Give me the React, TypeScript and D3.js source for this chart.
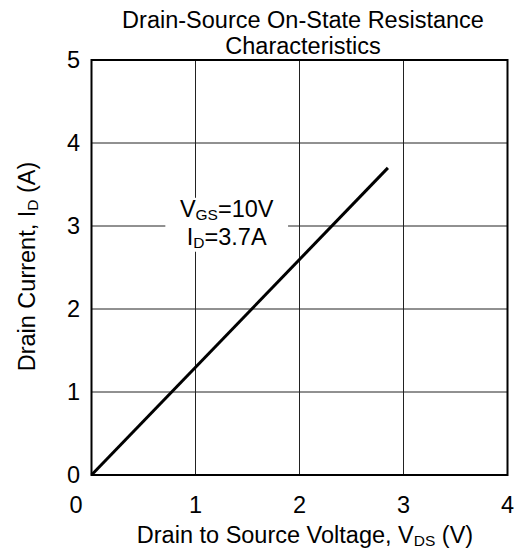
import React, {useEffect, useRef} from 'react';
import * as d3 from 'd3';

// on-state curve (linear region)
const vds = [0, 2.85];
const id = [0, 3.7];
const xTicks = [0, 1, 2, 3, 4];
const yTicks = [0, 1, 2, 3, 4, 5];
const titleLines = ['Drain-Source On-State Resistance', 'Characteristics'];

const W = 514;
const H = 555;
const m = {top: 60, right: 6, bottom: 80, left: 91.5};

const App: React.FC = () => {
    const ref = useRef<SVGSVGElement>(null);
    useEffect(() => {
        const svg = d3.select(ref.current);
        svg.selectAll('*').remove();
        const font = 'Arial, "Liberation Sans", sans-serif';
        const fs = 23.5;
        const sub = 15.5;
        const x = d3.scaleLinear().domain([0, 4]).range([m.left, W - m.right - 0.5]);
        const y = d3.scaleLinear().domain([0, 5]).range([H - m.bottom, m.top]);

        // grid
        const g = svg.append('g');
        g.selectAll('.vg').data(xTicks.slice(1, -1)).enter().append('line')
            .attr('x1', (d) => x(d)).attr('x2', (d) => x(d))
            .attr('y1', y(0)).attr('y2', y(5))
            .attr('stroke', '#222').attr('stroke-width', 1);
        g.selectAll('.hg').data(yTicks.slice(1, -1)).enter().append('line')
            .attr('x1', x(0)).attr('x2', x(4))
            .attr('y1', (d) => y(d)).attr('y2', (d) => y(d))
            .attr('stroke', '#222').attr('stroke-width', 1);

        // annotation box hides grid
        const ax = x(1.3);
        const ay = y(3.0);
        svg.append('rect')
            .attr('x', x(0.71)).attr('y', y(3.34))
            .attr('width', x(1.89) - x(0.71)).attr('height', y(2.69) - y(3.34))
            .attr('fill', '#fff');
        const t1 = svg.append('text').attr('x', ax).attr('y', ay - 9)
            .attr('text-anchor', 'middle').attr('font-family', font).attr('font-size', fs);
        t1.append('tspan').text('V');
        t1.append('tspan').attr('font-size', sub).attr('dy', 3).text('GS');
        t1.append('tspan').attr('dy', -3).text('=10V');
        const t2 = svg.append('text').attr('x', ax).attr('y', ay + 19)
            .attr('text-anchor', 'middle').attr('font-family', font).attr('font-size', fs);
        t2.append('tspan').text('I');
        t2.append('tspan').attr('font-size', sub).attr('dy', 3).text('D');
        t2.append('tspan').attr('dy', -3).text('=3.7A');

        // curve
        const line = d3.line<number>().x((d, i) => x(vds[i])).y((d) => y(d));
        svg.append('path').datum(id).attr('d', line)
            .attr('fill', 'none').attr('stroke', '#000').attr('stroke-width', 3);

        // frame
        svg.append('rect').attr('x', x(0)).attr('y', y(5))
            .attr('width', x(4) - x(0)).attr('height', y(0) - y(5))
            .attr('fill', 'none').attr('stroke', '#000').attr('stroke-width', 2);

        // tick labels
        svg.selectAll('.xt').data(xTicks).enter().append('text')
            .attr('x', (d) => x(d) - (d === 0 ? 15.5 : 0)).attr('y', y(0) + 38)
            .attr('text-anchor', 'middle').attr('font-family', font).attr('font-size', fs)
            .text((d) => d);
        svg.selectAll('.yt').data(yTicks).enter().append('text')
            .attr('x', x(0) - 11.5).attr('y', (d) => y(d) + 8)
            .attr('text-anchor', 'end').attr('font-family', font).attr('font-size', fs)
            .text((d) => d);

        // title
        svg.selectAll('.tt').data(titleLines).enter().append('text')
            .attr('x', 303).attr('y', (d, i) => 28 + i * 26)
            .attr('text-anchor', 'middle').attr('font-family', font).attr('font-size', fs)
            .text((d) => d);

        // axis titles
        const xl = svg.append('text').attr('x', 305).attr('y', 543)
            .attr('text-anchor', 'middle').attr('font-family', font).attr('font-size', fs);
        xl.append('tspan').text('Drain to Source Voltage, V');
        xl.append('tspan').attr('font-size', sub).attr('dy', 3).text('DS');
        xl.append('tspan').attr('dy', -3).text(' (V)');
        const yl = svg.append('text').attr('transform', `translate(35, 266.5) rotate(-90)`)
            .attr('text-anchor', 'middle').attr('font-family', font).attr('font-size', fs);
        yl.append('tspan').text('Drain Current, I');
        yl.append('tspan').attr('font-size', sub).attr('dy', 3).text('D');
        yl.append('tspan').attr('dy', -3).text(' (A)');
    }, []);

    return <svg ref={ref} width={W} height={H} style={{position: 'absolute', left: 0, top: 0}} />;
};

export default App;
